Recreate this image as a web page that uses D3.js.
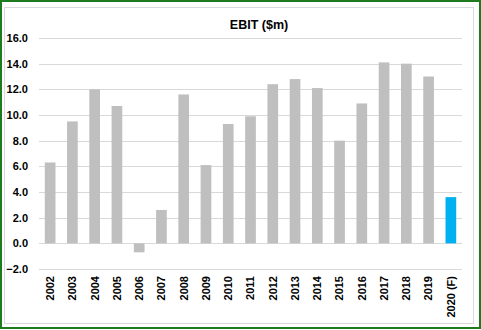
<!DOCTYPE html>
<html><head><meta charset="utf-8">
<script src="https://cdn.jsdelivr.net/npm/d3@7"></script>
<style>body{margin:0;background:#fff}svg{display:block}</style>
</head><body>
<svg id="c" width="481" height="330"></svg>
<script>
const categories = ["2002","2003","2004","2005","2006","2007","2008","2009","2010","2011","2012","2013","2014","2015","2016","2017","2018","2019","2020 (F)"];
const values = [6.3, 9.5, 12.0, 10.7, -0.7, 2.6, 11.6, 6.1, 9.3, 9.9, 12.4, 12.8, 12.1, 8.0, 10.9, 14.1, 14.0, 13.0, 3.6];
const forecast = [false,false,false,false,false,false,false,false,false,false,false,false,false,false,false,false,false,false,true];
const yTicks = [-2, 0, 2, 4, 6, 8, 10, 12, 14, 16];
const title = "EBIT ($m)";

const svg = d3.select("#c");
const font = "'Liberation Sans', Arial, sans-serif";
// outer frame
svg.append("rect").attr("x",1).attr("y",1).attr("width",479).attr("height",327)
  .attr("fill","#fff").attr("stroke","#1E7B1E").attr("stroke-width",2);
svg.append("rect").attr("x",4.5).attr("y",7.5).attr("width",469).attr("height",316)
  .attr("fill","#fff").attr("stroke","#D9D9D9").attr("stroke-width",1);

const x = d3.scaleBand().domain(categories).range([39, 462]).paddingInner(0.52).paddingOuter(0.26);
const y = d3.scaleLinear().domain([-2, 16]).range([269, 38]);

const grid = svg.append("g");
grid.selectAll("line").data(yTicks).join("line")
  .attr("x1",39).attr("x2",462)
  .attr("y1",d=>Math.round(y(d))+0.5).attr("y2",d=>Math.round(y(d))+0.5)
  .attr("stroke","#D9D9D9").attr("stroke-width",1);

const yAxis = d3.axisLeft(y).tickValues(yTicks).tickFormat(d3.format(".1f")).tickSize(0).tickPadding(0);
const ya = svg.append("g").attr("transform","translate(28,0)").call(yAxis);
ya.select(".domain").remove();
ya.selectAll("text").attr("font-family",font).attr("font-size",11).attr("font-weight","bold").attr("fill","#000");

svg.append("g").selectAll("rect").data(values).join("rect")
  .attr("x",(d,i)=>x(categories[i]))
  .attr("width",x.bandwidth())
  .attr("y",d=>y(Math.max(0,d)))
  .attr("height",d=>Math.abs(y(d)-y(0)))
  .attr("fill",(d,i)=>forecast[i]?"#00B0F0":"#BFBFBF");

const xAxis = d3.axisBottom(x).tickSize(0).tickPadding(0);
const xa = svg.append("g").attr("transform","translate(0,275)").call(xAxis);
xa.select(".domain").remove();
xa.selectAll("text").attr("font-family",font).attr("font-size",11).attr("font-weight","bold").attr("fill","#000")
  .attr("transform","rotate(-90)").attr("text-anchor","end").attr("dy","0.35em").attr("x",-1).attr("y",0);

svg.append("text").attr("x",259).attr("y",29).attr("text-anchor","middle")
  .attr("font-family",font).attr("font-size",12.5).attr("font-weight","bold").attr("fill","#000").text(title);
</script>
</body></html>
